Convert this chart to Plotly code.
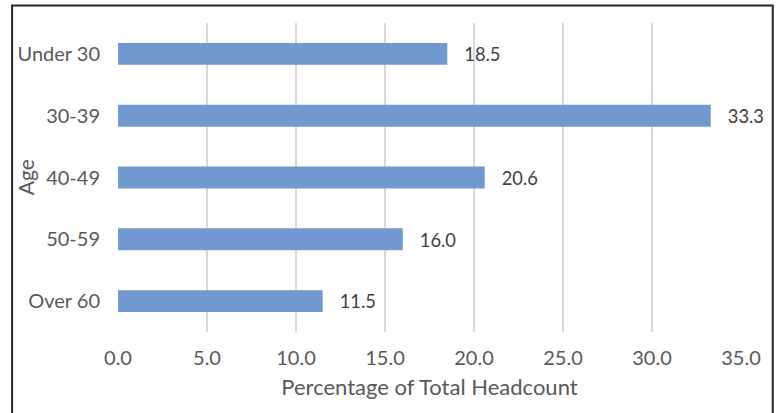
import plotly.graph_objects as go

categories = ["Under 30", "30-39", "40-49", "50-59", "Over 60"]
values = [18.5, 33.3, 20.6, 16.0, 11.5]
tick_vals = [0, 5, 10, 15, 20, 25, 30, 35]
tick_text = ["0.0", "5.0", "10.0", "15.0", "20.0", "25.0", "30.0", "35.0"]

FONT = "Lato, sans-serif"

fig = go.Figure(go.Bar(
    x=values, y=categories, orientation="h",
    marker=dict(color="#7199D0", line=dict(width=0)),
    text=[f"   {v:.1f}" for v in values],
    textposition="outside",
    textfont=dict(family=FONT, size=20, color="#404040"),
    cliponaxis=False,
))

fig.update_layout(
    width=778, height=413,
    margin=dict(l=118, r=37, t=23, b=81),
    paper_bgcolor="white", plot_bgcolor="white",
    bargap=0.645,
    showlegend=False,
    font=dict(family=FONT, size=20, color="#595959"),
    shapes=[dict(type="rect", xref="paper", yref="paper",
                 x0=-0.170, x1=1.051, y0=-0.35, y1=1.0566,
                 line=dict(color="#262626", width=2), fillcolor="rgba(0,0,0,0)", layer="above")],
    annotations=[dict(text="Age", xref="paper", yref="paper", x=-0.148, y=0.5,
                      xanchor="center", yanchor="middle", textangle=-90, showarrow=False,
                      font=dict(family=FONT, size=21, color="#595959"))],
)
fig.update_xaxes(
    range=[0, 35], tickvals=tick_vals, ticktext=tick_text,
    showgrid=True, gridcolor="#d9d9d9", gridwidth=1.5,
    zeroline=False, showline=False, ticks="",
    ticklabelstandoff=12,
    title=dict(text="Percentage of Total Headcount", standoff=11,
               font=dict(family=FONT, size=22, color="#595959")),
)
fig.update_yaxes(
    categoryorder="array", categoryarray=categories, autorange="reversed",
    showgrid=False, zeroline=False, showline=False, ticks="",
    ticklabelstandoff=17,
)

fig.write_html("out.html", config={"displayModeBar": False},
               post_script="document.body.style.margin='0';document.body.style.overflow='hidden';")
